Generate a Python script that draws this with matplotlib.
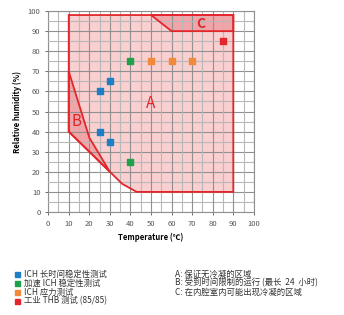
import matplotlib.pyplot as plt
import matplotlib.patches as patches

plt.rcParams['font.family'] = ['Noto Sans CJK SC', 'DejaVu Sans']

# zone outlines (temperature, humidity)
zona_a = [(10, 98), (90, 98), (90, 10), (43, 10), (36, 14), (30, 20), (10, 40)]
zona_b = [(10, 70), (20, 37), (30, 20), (10, 40)]
zona_c = [(50, 98), (60, 90), (90, 90), (90, 98)]

# test points
azul_t = [25, 30, 25, 30]
azul_h = [60, 65, 40, 35]
verde_t = [40, 40]
verde_h = [75, 25]
laranja_t = [50, 60, 70]
laranja_h = [75, 75, 75]
vermelho_t = [85]
vermelho_h = [85]

legenda = ['ICH 长时间稳定性测试', '加速 ICH 稳定性测试', 'ICH 应力测试', '工业 THB 测试 (85/85)']
cores = ['#1f7fc4', '#1fa04a', '#f28a3c', '#e3262b']
notas = ['A: 保证无冷凝的区域', 'B: 受到时间限制的运行 (最长  24  小时)', 'C: 在内腔室内可能出现冷凝的区域']

vermelho = '#e3262b'

fig = plt.figure(figsize=(3.44, 3.15), dpi=100)
ax = fig.add_axes([0.14, 0.327, 0.598, 0.638])
ax.set_xlim(0, 100)
ax.set_ylim(0, 100)

for v in range(0, 101, 5):
    c = '#909090' if v % 10 == 0 else '#b8b8b8'
    ax.axvline(v, color=c, lw=0.8, zorder=3)
    ax.axhline(v, color=c, lw=0.8, zorder=3)

ax.add_patch(patches.Polygon(zona_a, closed=True, facecolor='#f7bfc1', edgecolor='none', alpha=0.75, zorder=1))
ax.add_patch(patches.Polygon(zona_b, closed=True, facecolor='#ea8488', edgecolor='none', alpha=0.55, zorder=2))
ax.add_patch(patches.Polygon(zona_c, closed=True, facecolor='#ea8488', edgecolor='none', alpha=0.55, zorder=2))

ax.add_patch(patches.Polygon(zona_a, closed=True, facecolor='none', edgecolor=vermelho, lw=1.3, zorder=4))
ax.add_patch(patches.Polygon(zona_b, closed=True, facecolor='none', edgecolor=vermelho, lw=1.3, zorder=4))
ax.add_patch(patches.Polygon(zona_c, closed=True, facecolor='none', edgecolor=vermelho, lw=1.3, zorder=4))

ax.text(50, 54, 'A', color=vermelho, fontsize=11, ha='center', va='center', zorder=5)
ax.text(14, 45, 'B', color=vermelho, fontsize=11, ha='center', va='center', zorder=5)
ax.text(74, 93.5, 'C', color=vermelho, fontsize=10, fontweight='bold', ha='center', va='center', zorder=5)

ax.scatter(azul_t, azul_h, marker='s', s=14, color=cores[0], zorder=6)
ax.scatter(verde_t, verde_h, marker='s', s=14, color=cores[1], zorder=6)
ax.scatter(laranja_t, laranja_h, marker='s', s=14, color=cores[2], zorder=6)
ax.scatter(vermelho_t, vermelho_h, marker='s', s=14, color=cores[3], zorder=6)

ax.set_xticks(range(0, 101, 10))
ax.set_yticks(range(0, 101, 10))
ax.tick_params(labelsize=5.5, colors='#555555', length=2, width=0.6)
for s in ax.spines.values():
    s.set_color('#909090')
    s.set_linewidth(0.8)
ax.set_xlabel('Temperature (℃)', fontsize=5.5, fontweight='bold', labelpad=4)
ax.set_ylabel('Relative humidity (%)', fontsize=5.5, fontweight='bold', labelpad=4)

ys = [274, 283, 292, 301]
for i in range(4):
    y = 1 - ys[i] / 315
    fig.patches.append(patches.Rectangle((15 / 344, y - 2.5 / 315), 5 / 344, 5 / 315,
                                         transform=fig.transFigure, color=cores[i]))
    fig.text(24 / 344, y, legenda[i], fontsize=6, va='center', color='#333333')

for i in range(3):
    y = 1 - ys[i] / 315
    fig.text(175 / 344, y, notas[i], fontsize=6, va='center', color='#333333')

fig.savefig('out.png', dpi=100)
